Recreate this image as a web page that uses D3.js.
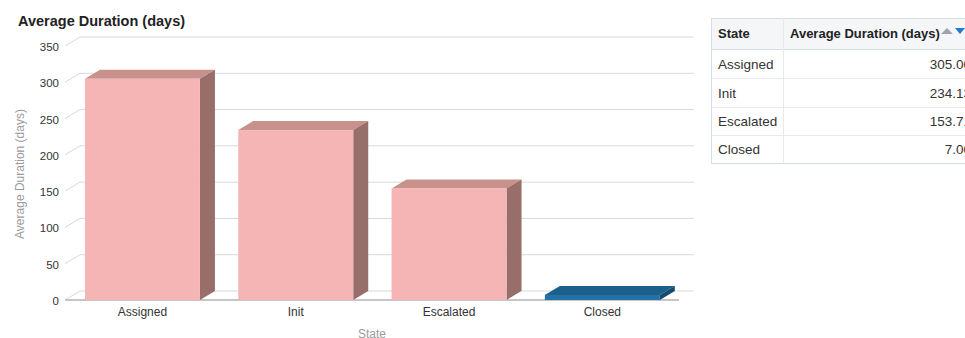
<!DOCTYPE html>
<html><head><meta charset="utf-8">
<script src="https://cdn.jsdelivr.net/npm/d3@7"></script>
<style>
html,body{margin:0;padding:0;background:#fff;overflow:hidden;}
svg{display:block;font-family:"Liberation Sans",Arial,sans-serif;}
</style></head>
<body>
<svg id="c" width="965" height="338"></svg>
<script>
const categories = ["Assigned", "Init", "Escalated", "Closed"];
const values = [305.00, 234.13, 153.71, 7.00];
const yTicks = [0, 50, 100, 150, 200, 250, 300, 350];
const tableHeaders = ["State", "Average Duration (days)"];
const tableValues = ["305.00", "234.13", "153.71", "7.00"];
const chartTitle = "Average Duration (days)";
const yTitle = "Average Duration (days)";
const xTitle = "State";
const faceColors = [
  {front:"#f6b5b5", top:"#c8918b", side:"#976e6a"},
  {front:"#f6b5b5", top:"#c8918b", side:"#976e6a"},
  {front:"#f6b5b5", top:"#c8918b", side:"#976e6a"},
  {front:"#2470a8", top:"#1b5f8b", side:"#134a6e"}
];

const svg = d3.select("#c");
const DX = 15, DY = 9;
const x = d3.scaleBand().domain(categories).range([65.8, 679]).paddingInner(0.25).paddingOuter(0.125);
const y = d3.scaleLinear().domain([0, 350]).range([300, 46]);

// title
svg.append("text").attr("x", 18).attr("y", 26).attr("font-size", 14.5).attr("font-weight", "bold")
  .attr("fill", "#222").text(chartTitle);

// gridlines (back wall) + diagonal ticks
const g = svg.append("g");
yTicks.forEach(t => {
  const yy = y(t);
  g.append("line").attr("x1", 65).attr("y1", yy).attr("x2", 65 + DX).attr("y2", yy - DY)
    .attr("stroke", "#d5d9de").attr("stroke-width", 1);
  g.append("line").attr("x1", 65 + DX).attr("y1", yy - DY).attr("x2", 679 + DX).attr("y2", yy - DY)
    .attr("stroke", "#d5d9de").attr("stroke-width", 1);
  svg.append("text").attr("x", 59).attr("y", yy + 5).attr("text-anchor", "end")
    .attr("font-size", 11.5).attr("fill", "#333").text(t);
});

// floor/base line
svg.append("line").attr("x1", 65).attr("y1", 300).attr("x2", 679).attr("y2", 300)
  .attr("stroke", "#c6c6c6").attr("stroke-width", 2);

// bars
categories.forEach((c, i) => {
  const x0 = x(c), w = x.bandwidth(), y0 = y(0), y1 = y(values[i]);
  const col = faceColors[i];
  const bg = svg.append("g");
  bg.append("polygon").attr("points", [[x0, y1], [x0 + DX, y1 - DY], [x0 + w + DX, y1 - DY], [x0 + w, y1]].map(p => p.join(",")).join(" "))
    .attr("fill", col.top);
  bg.append("polygon").attr("points", [[x0 + w, y1], [x0 + w + DX, y1 - DY], [x0 + w + DX, y0 - DY], [x0 + w, y0]].map(p => p.join(",")).join(" "))
    .attr("fill", col.side);
  bg.append("rect").attr("x", x0).attr("y", y1).attr("width", w).attr("height", y0 - y1).attr("fill", col.front);
  svg.append("text").attr("x", x0 + w / 2).attr("y", 316).attr("text-anchor", "middle")
    .attr("font-size", 12).attr("fill", "#333").text(c);
});

// axis titles
svg.append("text").attr("x", 372).attr("y", 337.5).attr("text-anchor", "middle")
  .attr("font-size", 12).attr("fill", "#9a9a9a").text(xTitle);
svg.append("text").attr("transform", "translate(24,174) rotate(-90)").attr("text-anchor", "middle")
  .attr("font-size", 12).attr("fill", "#9a9a9a").text(yTitle);

// table
const tx = 711, ty = 18, c1 = 783, tRight = 990;
const rowY = [18, 49, 78, 107, 135, 163];
const tg = svg.append("g");
tg.append("rect").attr("x", tx).attr("y", rowY[0]).attr("width", tRight - tx).attr("height", rowY[1] - rowY[0]).attr("fill", "#f4f6f8");
for (let k = 0; k < rowY.length; k++) {
  tg.append("line").attr("x1", tx).attr("x2", tRight).attr("y1", rowY[k] + 0.5).attr("y2", rowY[k] + 0.5)
    .attr("stroke", k === 0 || k === rowY.length - 1 || k === 1 ? "#d6dde3" : "#e6eaee");
}
tg.append("line").attr("x1", tx + 0.5).attr("x2", tx + 0.5).attr("y1", rowY[0]).attr("y2", rowY[5]).attr("stroke", "#d6dde3");
tg.append("line").attr("x1", c1 + 0.5).attr("x2", c1 + 0.5).attr("y1", rowY[0]).attr("y2", rowY[5]).attr("stroke", "#e6eaee");
tg.append("text").attr("x", 718).attr("y", 38).attr("font-size", 13).attr("font-weight", "bold").attr("fill", "#222").text(tableHeaders[0]);
tg.append("text").attr("x", 790).attr("y", 38).attr("font-size", 13).attr("font-weight", "bold").attr("fill", "#222").text(tableHeaders[1]);
// sort icons
tg.append("polygon").attr("points", "941,34 947,28 953,34").attr("fill", "#a0a4a8");
tg.append("polygon").attr("points", "955,28 965,28 960,34").attr("fill", "#1f7ad0");
categories.forEach((c, i) => {
  const cy = (rowY[i + 1] + rowY[i + 2]) / 2 + 5;
  tg.append("text").attr("x", 718).attr("y", cy).attr("font-size", 13.5).attr("fill", "#333").text(c);
  tg.append("text").attr("x", 971).attr("y", cy).attr("text-anchor", "end").attr("font-size", 13.5).attr("fill", "#333").text(tableValues[i]);
});
</script>
</body></html>
